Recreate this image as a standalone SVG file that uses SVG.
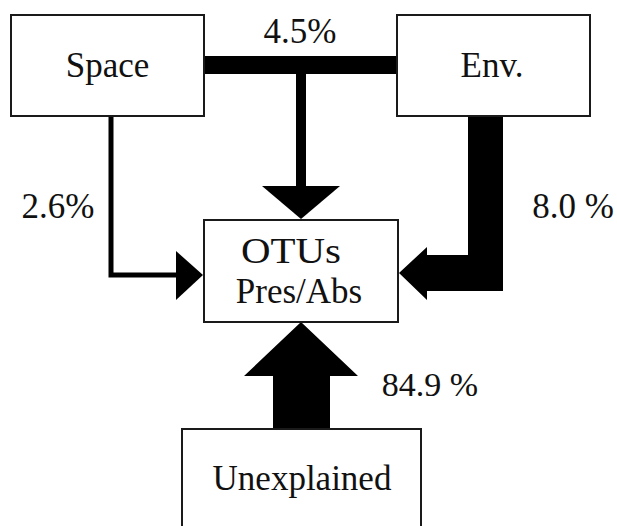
<svg xmlns="http://www.w3.org/2000/svg" width="617" height="526" viewBox="0 0 617 526">
<style>
.box{fill:#fff;stroke:#1a1a1a;stroke-width:2}
.t{font-family:"Liberation Serif","Times New Roman",serif;fill:#111;text-anchor:middle;font-size:35px}
.c{fill:#000}
</style>
<rect width="617" height="526" fill="#fff"/>
<g id="connectors">
<polyline points="111,116 111,275 177,275" fill="none" stroke="#000" stroke-width="5"/>
<polygon class="c" points="176,251 203,275 176,300"/>
<rect class="c" x="204" y="56" width="193" height="18"/>
<rect class="c" x="296" y="74" width="10" height="113"/>
<polygon class="c" points="262,186 340,186 301,219"/>
<polygon class="c" points="468,116 503,116 503,291 427,291 427,300 399,273 427,247 427,255 468,255"/>
<polygon class="c" points="273,429 330,429 330,376 358,376 301,322 244,376 273,376"/>
<text class="t" x="300" y="43">4.5%</text>
<text class="t" x="58" y="218">2.6%</text>
<text class="t" x="573" y="218">8.0 %</text>
<text class="t" x="430" y="396" style="font-size:34px">84.9 %</text>
</g>
<g id="space">
<rect class="box" x="11" y="15" width="193" height="101"/>
<text class="t" x="107.5" y="77">Space</text>
</g>
<g id="env">
<rect class="box" x="397" y="15" width="193" height="101"/>
<text class="t" x="492" y="77">Env.</text>
</g>
<g id="otus">
<rect class="box" x="204" y="220" width="194" height="102"/>
<text class="t" x="291" y="263" textLength="100" lengthAdjust="spacingAndGlyphs">OTUs</text>
<text class="t" x="299" y="303">Pres/Abs</text>
</g>
<g id="unexplained">
<rect class="box" x="182" y="429" width="239" height="110"/>
<text class="t" x="302" y="490">Unexplained</text>
</g>
</svg>
